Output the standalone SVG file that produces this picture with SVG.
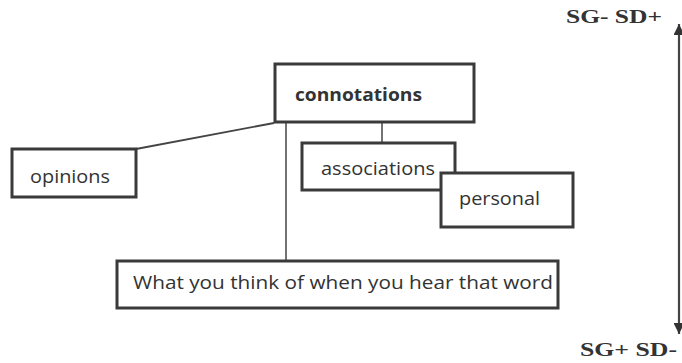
<svg xmlns="http://www.w3.org/2000/svg" width="682" height="363" viewBox="0 0 682 363">
<style>
.box{fill:#fff;stroke:#3a3a3a;stroke-width:3}
.lbl{font-family:"Open Sans","Noto Sans",sans-serif;font-size:18px;fill:#333}
.ser{font-family:"Liberation Serif","Times New Roman",serif;font-weight:bold;font-size:18px;fill:#333}
.con{stroke:#444;fill:none}
</style>
<defs>
<marker id="ah" viewBox="0 0 10 10" refX="10" refY="5" markerWidth="6" markerHeight="5" orient="auto-start-reverse" markerUnits="strokeWidth">
<path d="M0,0 L10,5 L0,10 z" fill="#333"/>
</marker>
</defs>
<rect width="682" height="363" fill="#fff"/>
<g id="connectors">
<line class="con" stroke-width="1.8" x1="136" y1="149" x2="274" y2="123"/>
<line class="con" stroke-width="1.5" x1="286" y1="123" x2="286" y2="261"/>
<line class="con" stroke-width="1.5" x1="382" y1="123" x2="382" y2="143"/>
<line class="con" stroke="#333" stroke-width="2.2" x1="679" y1="24" x2="679" y2="334" marker-start="url(#ah)" marker-end="url(#ah)"/>
</g>
<g id="connotations">
<rect class="box" x="275" y="64" width="199" height="58" stroke-width="4.5"/>
<text class="lbl" x="295" y="101" font-weight="bold" textLength="127" lengthAdjust="spacingAndGlyphs">connotations</text>
</g>
<g id="opinions">
<rect class="box" x="12" y="149" width="124" height="48"/>
<text class="lbl" x="30" y="183" textLength="80" lengthAdjust="spacingAndGlyphs">opinions</text>
</g>
<g id="associations">
<rect class="box" x="302" y="143" width="153" height="47"/>
<text class="lbl" x="321" y="175" textLength="114" lengthAdjust="spacingAndGlyphs">associations</text>
</g>
<g id="personal">
<rect class="box" x="441" y="173" width="132" height="54"/>
<text class="lbl" x="459" y="205" textLength="81" lengthAdjust="spacingAndGlyphs">personal</text>
</g>
<g id="meaning">
<rect class="box" x="117" y="261" width="441" height="47" stroke-width="2.5"/>
<text class="lbl" x="133" y="289" textLength="420" lengthAdjust="spacingAndGlyphs">What you think of when you hear that word</text>
</g>
<g id="scale-labels">
<text class="ser" x="566" y="23" textLength="96" lengthAdjust="spacingAndGlyphs">SG- SD+</text>
<text class="ser" x="580" y="356" textLength="97" lengthAdjust="spacingAndGlyphs">SG+ SD-</text>
</g>
</svg>
